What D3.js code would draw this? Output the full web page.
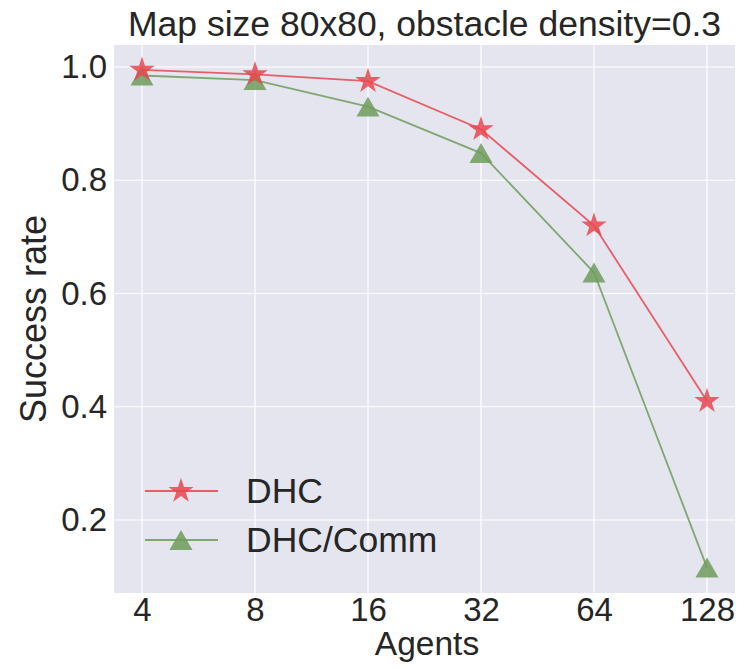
<!DOCTYPE html>
<html><head><meta charset="utf-8">
<script src="https://cdn.jsdelivr.net/npm/d3@7"></script>
<style>body{margin:0;background:#fff;} text{font-family:"Liberation Sans",Arial,sans-serif;fill:#262626;}</style>
</head><body>
<svg id="c" width="743" height="669"></svg>
<script>
const agents = [4, 8, 16, 32, 64, 128];
const dhc = [0.995, 0.987, 0.975, 0.89, 0.72, 0.41];
const dhcComm = [0.985, 0.977, 0.93, 0.848, 0.637, 0.116];
const yTicks = [0.2, 0.4, 0.6, 0.8, 1.0];
const seriesNames = ["DHC", "DHC/Comm"];

const svg = d3.select("#c");
const L = 114, R = 735, T = 45, B = 593;
const x = d3.scaleLog().base(2).domain([4, 128]).range([142, 707]);
x.domain([x.invert(L), x.invert(R)]).range([L, R]);
const y = d3.scaleLinear().domain([0.2, 1.0]).range([520, 67]);
y.domain([y.invert(B), y.invert(T)]).range([B, T]);

svg.append("rect").attr("x", L).attr("y", T).attr("width", R - L).attr("height", B - T).attr("fill", "#e5e5ef");
const g = svg.append("g");
g.selectAll(".vg").data(agents).enter().append("line")
  .attr("x1", d => x(d)).attr("x2", d => x(d)).attr("y1", T).attr("y2", B)
  .attr("stroke", "#fff").attr("stroke-width", 1.2);
g.selectAll(".hg").data(yTicks).enter().append("line")
  .attr("x1", L).attr("x2", R).attr("y1", d => y(d)).attr("y2", d => y(d))
  .attr("stroke", "#fff").attr("stroke-width", 1.2);

const xAxis = d3.axisBottom(x).tickValues(agents).tickFormat(d => d).tickSize(0).tickPadding(28);
const xa = svg.append("g").attr("transform", `translate(0,${B})`).call(xAxis);
xa.select(".domain").remove();
xa.selectAll("text").attr("font-size", 33).attr("fill", "#262626").attr("dy", "0");

const yAxis = d3.axisLeft(y).tickValues(yTicks).tickFormat(d3.format(".1f")).tickSize(0).tickPadding(7);
const ya = svg.append("g").attr("transform", `translate(${L},0)`).call(yAxis);
ya.select(".domain").remove();
ya.selectAll("text").attr("font-size", 33).attr("fill", "#262626");

svg.append("text").attr("x", (L + R) / 2).attr("y", 36).attr("text-anchor", "middle").attr("font-size", 35.5)
  .text("Map size 80x80, obstacle density=0.3");
svg.append("text").attr("x", 427).attr("y", 655).attr("text-anchor", "middle").attr("font-size", 33.5)
  .text("Agents");
svg.append("text").attr("transform", `translate(46,319) rotate(-90)`).attr("text-anchor", "middle").attr("font-size", 36)
  .text("Success rate");

const red = "#e8474f", green = "#6f9c5c";
const line = d3.line().x((d, i) => x(agents[i])).y(d => y(d));
const star = d3.symbol().type(d3.symbolStar).size(200);
const tri = d3.symbol().type(d3.symbolTriangle).size(230);
const triOff = 3.3;

svg.append("path").datum(dhcComm).attr("d", line).attr("fill", "none").attr("stroke", green).attr("stroke-width", 1.8).attr("opacity", 0.85);
svg.append("path").datum(dhc).attr("d", line).attr("fill", "none").attr("stroke", red).attr("stroke-width", 1.8).attr("opacity", 0.85);
svg.selectAll(".t").data(dhcComm).enter().append("path").attr("d", tri)
  .attr("transform", (d, i) => `translate(${x(agents[i])},${y(d) + triOff})`).attr("fill", green).attr("opacity", 0.85);
svg.selectAll(".s").data(dhc).enter().append("path").attr("d", star)
  .attr("transform", (d, i) => `translate(${x(agents[i])},${y(d)})`).attr("fill", red).attr("opacity", 0.85);

// legend
const leg = [{name: seriesNames[0], c: red, sym: star, ly: 491, off: 0}, {name: seriesNames[1], c: green, sym: tri, ly: 540, off: triOff}];
leg.forEach(l => {
  svg.append("line").attr("x1", 145).attr("x2", 218).attr("y1", l.ly).attr("y2", l.ly).attr("stroke", l.c).attr("stroke-width", 1.8).attr("opacity", 0.85);
  svg.append("path").attr("d", l.sym).attr("transform", `translate(181,${l.ly + l.off})`).attr("fill", l.c).attr("opacity", 0.85);
  svg.append("text").attr("x", 246).attr("y", l.ly + 12).attr("font-size", 35.5).text(l.name);
});
</script>
</body></html>
